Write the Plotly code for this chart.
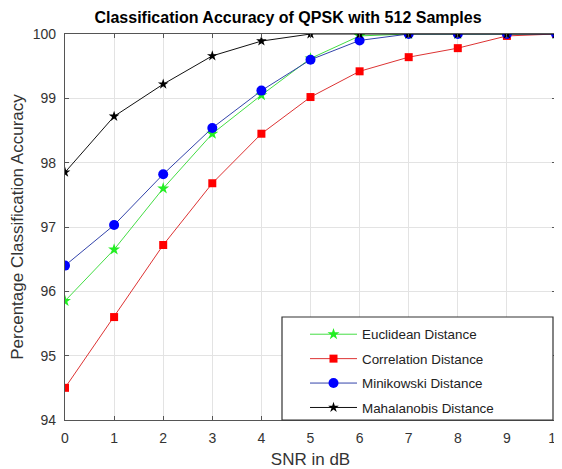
import plotly.graph_objects as go

snr = [0, 1, 2, 3, 4, 5, 6, 7, 8, 9, 10]
euclidean = [95.85, 96.65, 97.6, 98.45, 99.05, 99.62, 99.97, 100, 100, 100, 100]
correlation = [94.5, 95.6, 96.72, 97.68, 98.45, 99.02, 99.42, 99.64, 99.78, 99.97, 100]
minikowski = [96.4, 97.03, 97.82, 98.54, 99.12, 99.6, 99.9, 100, 100, 100, 100]
mahalanobis = [97.85, 98.72, 99.22, 99.66, 99.89, 100, 100, 100, 100, 100, 100]

series = [
    ("Euclidean Distance", euclidean, "#22ee22", "#44dd44", "star", 9),
    ("Correlation Distance", correlation, "#ff0000", "#dd3333", "square", 8),
    ("Minikowski Distance", minikowski, "#0000ff", "#3344aa", "circle", 10),
    ("Mahalanobis Distance", mahalanobis, "#000000", "#111111", "star", 8),
]

FONT = "Liberation Sans, Arial, Helvetica"

fig = go.Figure()
for i, (name, vals, mcol, lcol, sym, size) in enumerate(series):
    fig.add_trace(go.Scatter(
        x=snr, y=vals, name=name, mode="lines+markers", legendgroup=f"g{i}",
        line=dict(color=lcol, width=1),
        marker=dict(symbol=sym, size=size, color=mcol, line=dict(width=0)),
    ))

axis_common = dict(
    showgrid=True, gridcolor="#e3e3e3", gridwidth=1,
    showline=True, linecolor="#555555", linewidth=1.2, mirror="ticks",
    ticks="inside", ticklen=4, tickcolor="#555555",
    tickfont=dict(family=FONT, size=14, color="#333333"),
    zeroline=False, automargin=False, ticklabeloverflow="allow",
)

# plot area in page px: left 65, right 556, top 34, bottom 420 (page body has 8px margin)
PL, PR, PT, PB = 65, 556, 34, 420
PW, PH = PR - PL, PB - PT
FW, FH = 554, 461

def px_x(p):
    return (p - PL) / PW

def px_y(p):
    return (PB - p) / PH

fig.add_shape(type="rect", xref="paper", yref="paper",
              x0=px_x(282), x1=px_x(553), y0=px_y(420), y1=px_y(317),
              line=dict(color="#333333", width=1.2), fillcolor="white", layer="above")

fig.update_layout(
    width=FW, height=FH,
    paper_bgcolor="white", plot_bgcolor="white",
    margin=dict(l=PL - 8, r=FW + 8 - PR, t=PT - 8, b=FH + 8 - PB, autoexpand=False),
    title=dict(text="<b>Classification Accuracy of QPSK with 512 Samples</b>",
               x=(288 - 8) / FW, xanchor="center", y=1 - (17 - 8) / FH, yanchor="middle",
               font=dict(family=FONT, size=16, color="black")),
    xaxis=dict(range=[0, 10], dtick=1, ticklabelstandoff=5,
               title=dict(text="SNR in dB", standoff=8,
                          font=dict(family=FONT, size=17, color="#333333")),
               **axis_common),
    yaxis=dict(range=[94, 100], dtick=1, ticklabelstandoff=5,
               title=dict(text="Percentage Classification Accuracy", standoff=6,
                          font=dict(family=FONT, size=17, color="#333333")),
               **axis_common),
    legend=dict(x=px_x(305), y=px_y(319), xanchor="left", yanchor="top",
                bgcolor="rgba(0,0,0,0)", borderwidth=0,
                font=dict(family=FONT, size=13.4, color="#222222"),
                itemwidth=47, tracegroupgap=4),
    showlegend=True,
)

fig.write_html("out.html")
